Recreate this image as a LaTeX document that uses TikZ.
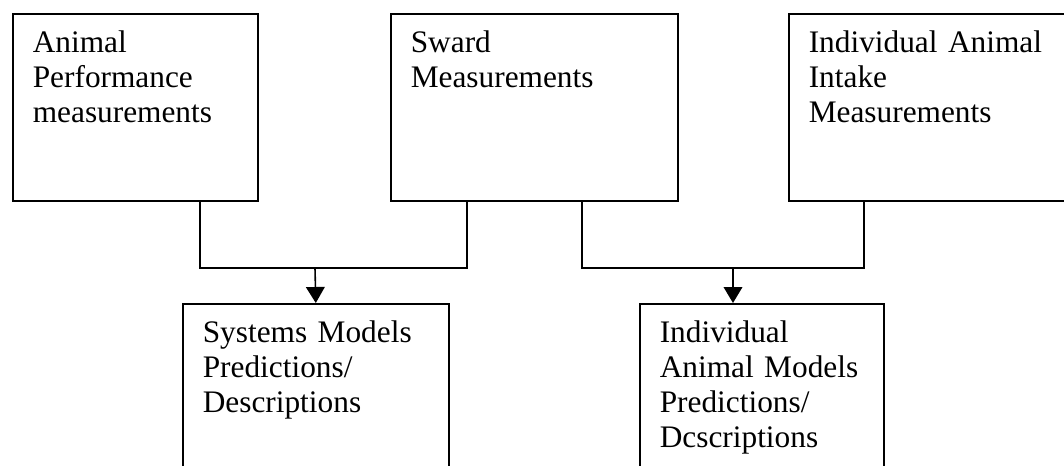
\documentclass[tikz,border=0pt]{standalone}
\usepackage{fontspec}
\setmainfont{Liberation Serif}
\usepackage{tikz}
\usetikzlibrary{arrows.meta}

\tikzset{
    measbox/.style={draw, line width=1.2pt, anchor=north west, align=left,
        inner xsep=15pt, inner ysep=4pt, text height=25.25pt,
        font=\fontsize{23.5}{26.25}\selectfont},
    joinline/.style={line width=1.2pt},
    joinarrow/.style={line width=1.2pt, -{Triangle[width=14pt,length=12pt]}},
}

\begin{document}
\begin{tikzpicture}[x=0.75pt,y=0.75pt,yscale=-1,xscale=1]
    %set diagram to 1064 x 465
    \path[use as bounding box, clip] (0,0) rectangle (1064,465);

    %Shape: top boxes
    \node [measbox, text width=153.75pt, text depth=107pt] (anim) at (12,13)
        {Animal\\Performance\\measurements};
    \node [measbox, text width=185.25pt, text depth=107pt] (sward) at (390,13)
        {Sward\\Measurements};
    \node [measbox, text width=185.25pt, text depth=107pt] (intake) at (788,13)
        {Individual Animal\\Intake\\Measurements};

    %Shape: bottom boxes
    \node [measbox, text width=169.5pt, text depth=99.5pt] (sysmod) at (182,303)
        {Systems Models\\Predictions/\\Descriptions};
    \node [measbox, text width=153pt, text depth=99.5pt] (indmod) at (639,303)
        {Individual\\Animal Models\\Predictions/\\Dcscriptions};

    %junction points
    \coordinate (ja) at (200,268);
    \coordinate (jb) at (467,268);
    \coordinate (jc) at (582,268);
    \coordinate (jd) at (864,268);
    \coordinate (j1) at (315,268);
    \coordinate (j2) at (733,268);

    % Connectors
    \draw [joinline] (anim.south -| ja) -- (ja) -- (jb) -- (sward.south -| jb);
    \draw [joinline] (sward.south -| jc) -- (jc) -- (jd) -- (intake.south -| jd);
    \draw [joinarrow] (j1) -- (sysmod.north);
    \draw [joinarrow] (j2) -- (j2 |- indmod.north);

\end{tikzpicture}
\end{document}
